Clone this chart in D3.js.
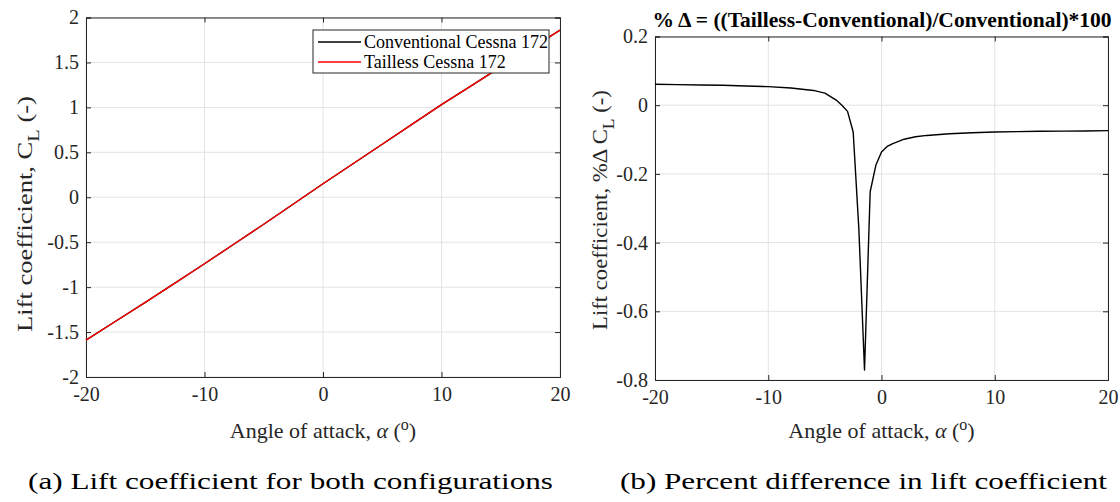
<!DOCTYPE html>
<html><head><meta charset="utf-8">
<script src="https://cdn.jsdelivr.net/npm/d3@7/dist/d3.min.js"></script>
<style>
body{margin:0;background:#fff;}
svg{display:block;}
text{font-family:"Liberation Serif","Times New Roman",serif;fill:#262626;}
</style></head>
<body>
<svg id="c" width="1120" height="502" font-family="Liberation Serif, serif"></svg>
<script>
// ---- data ----
const alphaA = [-20,-17.5,-15,-12.5,-10,-7.5,-5,-2.5,0,2.5,5,7.5,10,12.5,15,17.5,20];
const clConventional = [-1.59,-1.38,-1.17,-0.955,-0.74,-0.52,-0.30,-0.075,0.15,0.37,0.59,0.81,1.03,1.24,1.45,1.65,1.86];
const clTailless     = [-1.59,-1.38,-1.17,-0.955,-0.74,-0.52,-0.30,-0.075,0.15,0.37,0.59,0.81,1.03,1.24,1.45,1.65,1.86];
const seriesNames = ["Conventional Cessna 172","Tailless Cessna 172"];
const seriesColors = ["#000000","#ff0000"];

const alphaB = [-20,-18,-16,-14,-12,-10,-8,-6,-5,-4,-3.5,-3,-2.5,-2,-1.5,-1,-0.5,0,0.5,1,2,3,4,6,8,10,12,14,16,18,20];
const pctDelta = [0.061,0.060,0.059,0.058,0.056,0.054,0.050,0.043,0.035,0.015,0.0,-0.018,-0.078,-0.36,-0.771,-0.252,-0.175,-0.136,-0.12,-0.112,-0.099,-0.092,-0.088,-0.083,-0.080,-0.078,-0.077,-0.076,-0.0755,-0.075,-0.074];

const xTicks = [-20,-10,0,10,20];
const yTicksA = [-2,-1.5,-1,-0.5,0,0.5,1,1.5,2];
const yTicksB = [-0.8,-0.6,-0.4,-0.2,0,0.2];

const svg = d3.select("#c");

function panel(o){
  const x = d3.scaleLinear().domain([-20,20]).range([o.x0,o.x1]);
  const y = d3.scaleLinear().domain(o.ydom).range([o.y1,o.y0]);
  const g = svg.append("g");
  // grid
  g.append("g").selectAll("line").data(xTicks).join("line")
    .attr("x1",d=>x(d)).attr("x2",d=>x(d)).attr("y1",o.y0).attr("y2",o.y1)
    .attr("stroke","#e3e3e3").attr("stroke-width",1);
  g.append("g").selectAll("line").data(o.yticks).join("line")
    .attr("x1",o.x0).attr("x2",o.x1).attr("y1",d=>y(d)).attr("y2",d=>y(d))
    .attr("stroke","#e3e3e3").attr("stroke-width",1);
  const fmt = d=>String(d);
  const ax = [
    [d3.axisBottom(x).tickValues(xTicks).tickSize(-5).tickPadding(10).tickFormat(fmt), `translate(0,${o.y1})`],
    [d3.axisTop(x).tickValues(xTicks).tickSize(-5).tickFormat(""), `translate(0,${o.y0})`],
    [d3.axisLeft(y).tickValues(o.yticks).tickSize(-5).tickPadding(7).tickFormat(fmt), `translate(${o.x0},0)`],
    [d3.axisRight(y).tickValues(o.yticks).tickSize(-5).tickFormat(""), `translate(${o.x1},0)`]
  ];
  ax.forEach(([a,t])=>{
    const ag = g.append("g").attr("transform",t).call(a);
    ag.select(".domain").attr("stroke","#262626").attr("stroke-width",1);
    ag.selectAll(".tick line").attr("stroke","#262626");
    ag.selectAll(".tick text").attr("fill","#262626")
      .style("font-family",'"Liberation Serif",serif').style("font-size","20px");
  });
  // lines
  o.series.forEach(s=>{
    const line = d3.line().x((d,i)=>x(s.xs[i])).y(d=>y(d));
    g.append("path").datum(s.ys).attr("d",line).attr("fill","none")
      .attr("stroke",s.color).attr("stroke-width",1.4).attr("stroke-linejoin","round");
  });
  // x label
  const xl = g.append("text").attr("x",(o.x0+o.x1)/2).attr("y",438)
    .attr("text-anchor","middle").style("font-size","22px");
  xl.append("tspan").text("Angle of attack, ");
  xl.append("tspan").text("α").style("font-style","italic");
  xl.append("tspan").text(" (");
  xl.append("tspan").text("o").attr("dy",-8).style("font-size","16px");
  xl.append("tspan").text(")").attr("dy",8);
  // y label
  const yl = g.append("text").attr("text-anchor","middle").style("font-size","22px");
  yl.append("tspan").text(o.ylabel);
  yl.append("tspan").text("L").attr("dy",7).style("font-size","17px");
  yl.append("tspan").text(" (-)").attr("dy",-7);
  const w = yl.node().getBBox().width;
  yl.attr("transform",`translate(${o.ylx},${o.ylcy}) rotate(-90) scale(${o.ylen/w},1)`);
  return {x,y,g};
}

panel({x0:86,x1:560,y0:17.5,y1:377,ydom:[-2,2],yticks:yTicksA,ylx:32,ylcy:214,ylen:236,
  ylabel:"Lift coefficient, C",
  series:[{xs:alphaA,ys:clConventional,color:seriesColors[0]},{xs:alphaA,ys:clTailless,color:seriesColors[1]}]});

panel({x0:655,x1:1108,y0:36.5,y1:380,ydom:[-0.8,0.2],yticks:yTicksB,ylx:607,ylcy:210,ylen:240,
  ylabel:"Lift coefficient, %Δ C",
  series:[{xs:alphaB,ys:pctDelta,color:"#000000"}]});

// legend
const lg = svg.append("g");
lg.append("rect").attr("x",313).attr("y",30).attr("width",236).attr("height",43)
  .attr("fill","#fff").attr("stroke","#262626").attr("stroke-width",1);
seriesNames.forEach((n,i)=>{
  const yy = 42 + i*20;
  lg.append("line").attr("x1",318).attr("x2",361).attr("y1",yy).attr("y2",yy)
    .attr("stroke",seriesColors[i]).attr("stroke-width",1.4);
  lg.append("text").attr("x",364).attr("y",yy+6).text(n).style("font-size","18px").style("fill","#000");
});

// title right
svg.append("text").attr("x",882).attr("y",27).attr("text-anchor","middle")
  .style("font-size","21.5px").style("font-weight","bold").style("fill","#000")
  .text("% Δ = ((Tailless-Conventional)/Conventional)*100");

// captions
svg.append("text").attr("x",28).attr("y",489).style("font-size","24px").style("fill","#000")
  .attr("textLength",525).attr("lengthAdjust","spacingAndGlyphs")
  .text("(a) Lift coefficient for both configurations");
svg.append("text").attr("x",620).attr("y",489).style("font-size","24px").style("fill","#000")
  .attr("textLength",487).attr("lengthAdjust","spacingAndGlyphs")
  .text("(b) Percent difference in lift coefficient");
</script>
</body></html>
